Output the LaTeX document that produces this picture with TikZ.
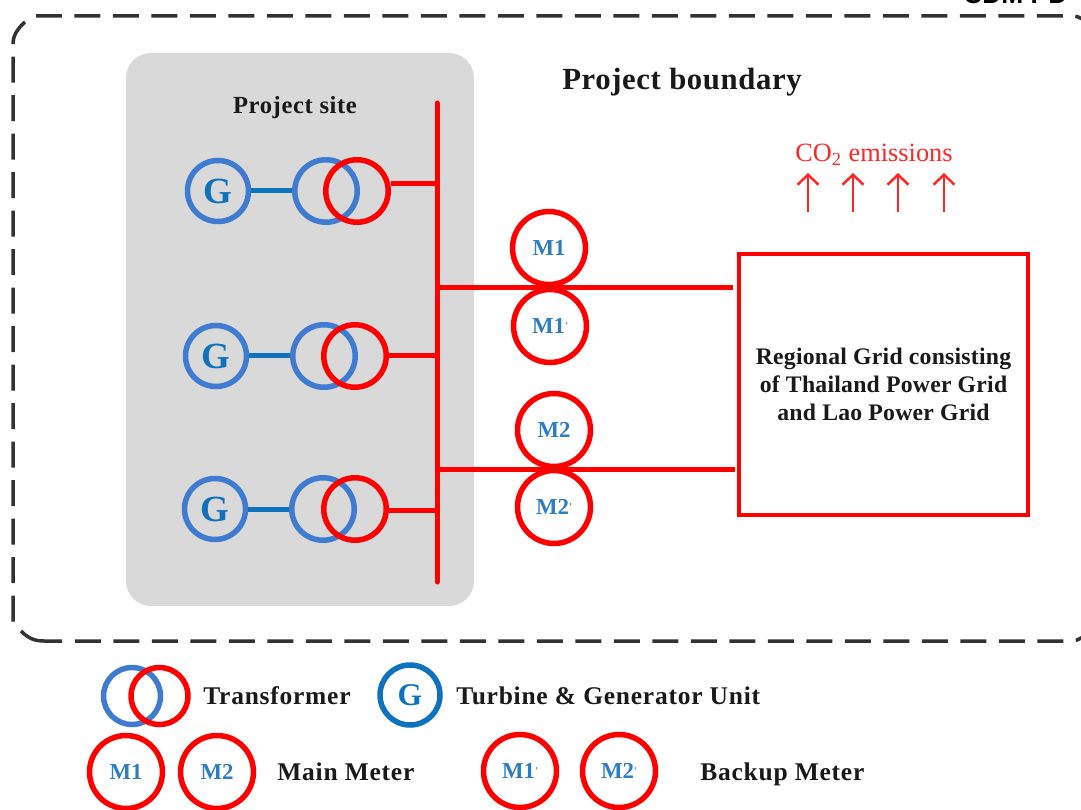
\documentclass[tikz,border=0pt]{standalone}
\usepackage{fontspec}
\setmainfont{Liberation Serif}
\newfontfamily\headfont{Liberation Sans}
\usepackage{xcolor}
\usetikzlibrary{arrows.meta, positioning, calc}
\definecolor{gridred}{HTML}{FF0000}
\definecolor{genblue}{HTML}{3F7BD0}
\definecolor{unitblue}{HTML}{0F72BC}
\definecolor{labelblue}{HTML}{2E7DC0}
\definecolor{sitegray}{HTML}{D9D9D9}
\definecolor{dashgray}{HTML}{333333}
\newcommand{\bk}{\raisebox{0.5ex}{\tiny'}}
\newcommand{\spaced}[1]{\addfontfeature{LetterSpace=#1}}
\tikzset{
  meter/.style={circle, draw=gridred, line width=0.11cm, minimum size=1.46cm, inner sep=0pt,
    text=labelblue, font=\fontsize{13}{15}\selectfont\bfseries},
  genunit/.style={circle, draw=genblue, line width=0.11cm, minimum size=1.22cm, inner sep=0pt,
    text=unitblue, font=\fontsize{21}{23}\selectfont\bfseries},
  coilblue/.style={circle, draw=genblue, line width=0.11cm, minimum size=1.25cm},
  coilred/.style={circle, draw=gridred, line width=0.11cm, minimum size=1.25cm},
  redline/.style={draw=gridred, line width=0.1cm},
  blueline/.style={draw=unitblue, line width=0.1cm},
  boundaryline/.style={draw=dashgray, line width=0.07cm, dash pattern=on 0.52cm off 0.25cm},
  legendtext/.style={font=\fontsize{14.5}{16}\selectfont\bfseries\spaced{3}, text=black!90, anchor=base west, inner sep=0pt},
  co2arrow/.style={draw=gridred!85, line width=0.05cm, -{Straight Barb[length=0.2cm,width=0.42cm]}}
}

\begin{document}
\begin{tikzpicture}[x=0.02cm, y=-0.02cm]
\useasboundingbox (0,0) rectangle (1081,810);
% Boundary and site area
\draw[boundaryline] (36,16) -- (1072,16) .. controls (1080,16) and (1085,20) .. (1092,28);
\draw[boundaryline] (25,22) .. controls (17,29) and (13,36) .. (13,44) -- (13,622);
\draw[boundaryline, solid] (21,631) .. controls (28,638) and (34,641) .. (44,641) -- (62,641);
\draw[boundaryline] (75,641) -- (1072,641) .. controls (1078,641) and (1083,637) .. (1092,630);
\fill[sitegray, rounded corners=0.5cm] (126,53) rectangle (474,606);
\node[font=\fontsize{17.5}{19}\selectfont\bfseries\spaced{2}, text=black!90] (boundary) at (682,82) {Project boundary};
\node[font=\fontsize{14}{16}\selectfont\bfseries\spaced{2.5}, text=black!90] (site) at (295,108) {Project site};
\node[font=\fontsize{15}{17}\selectfont\bfseries\headfont, anchor=base west, inner sep=0pt] (header) at (963,4) {CDM PD};

% Busbar
\coordinate (busTop) at (437,103);
\coordinate (busBot) at (437,582);
\draw[redline, line cap=round] (busTop) -- (busBot);

% Generator rows
\foreach \n/\gx/\bx/\rx/\y/\ly in {1/218/326/357/191/184, 2/216/324/355/356/356, 3/215/323/355/509/510} {
  \node[genunit] (g\n) at (\gx,\y) {G};
  \node[coilblue] (tb\n) at (\bx,\y) {};
  \node[coilred] (tr\n) at (\rx,\y) {};
  \coordinate (tap\n) at (437,\ly);
  \draw[blueline] (g\n) -- (tb\n);
  \draw[redline] (tr\n.east |- tap\n) -- (tap\n);
}

% Regional grid
\node[draw=gridred, line width=0.09cm, minimum width=5.78cm, minimum height=5.22cm, align=center,
  font=\fontsize{13.5}{16}\selectfont\bfseries\spaced{1}, text=black!90] (grid) at (883.5,384.5)
  {Regional Grid consisting\\of Thailand Power Grid\\and Lao Power Grid};

% Meters
\node[meter] (m1) at (549,248) {M1};
\node[meter] (m1b) at (550,326) {M1\bk};
\node[meter] (m2) at (554,430) {M2};
\node[meter] (m2b) at (554,507) {M2\bk};
\coordinate (feedA) at (437,288);
\coordinate (feedB) at (437,469);
\coordinate (gridA) at (733,288);
\coordinate (gridB) at (735,469);
\draw[redline] (feedA) -- (gridA);
\draw[redline] (feedB) -- (gridB);
\fill[black!70] (m1 |- feedA) circle (0.03cm);
\fill[black!70] (m2 |- feedB) circle (0.03cm);

% Emissions
\node[text=gridred!85, font=\fontsize{15}{17}\selectfont] (co2) at (874,155) {CO\textsubscript{2} emissions};
\foreach \n/\x in {1/808, 2/853, 3/898, 4/944} {
  \coordinate (co2s\n) at (\x,212);
  \coordinate (co2e\n) at (\x,173);
  \draw[co2arrow] (co2s\n) -- (co2e\n);
}

% Legend
\node[coilblue, minimum size=1.14cm] (legtb) at (132,696) {};
\node[coilred, minimum size=1.14cm] (legtr) at (159.5,696) {};
\node[legendtext] (legtrans) at (203,704) {Transformer};
\node[genunit, draw=unitblue, minimum size=1.2cm, font=\fontsize{18}{20}\selectfont\bfseries] (legg) at (410,695) {G};
\node[legendtext] (legunit) at (456,704) {Turbine \& Generator Unit};
\node[meter] (legm1) at (126,772) {M1};
\node[meter] (legm2) at (217,772) {M2};
\node[legendtext] (legmain) at (277,780) {Main Meter};
\node[meter] (legm1b) at (520,771) {M1\bk};
\node[meter] (legm2b) at (619,771) {M2\bk};
\node[legendtext] (legback) at (700,780) {Backup Meter};
\end{tikzpicture}
\end{document}
